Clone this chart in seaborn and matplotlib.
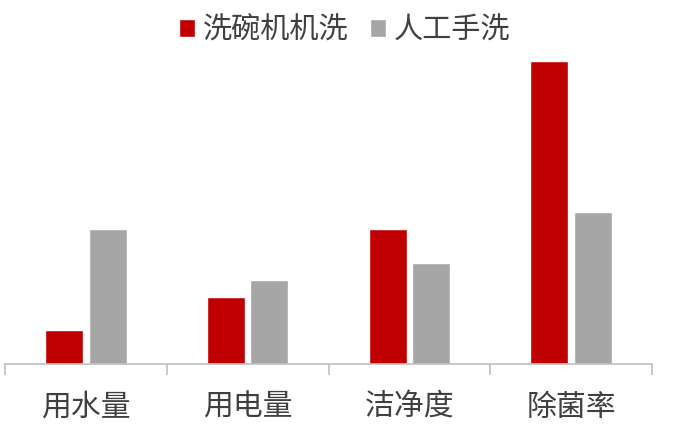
import matplotlib
matplotlib.use("Agg")
import matplotlib.pyplot as plt
import seaborn as sns
import pandas as pd
from matplotlib.ticker import FixedLocator
from matplotlib.patches import Patch

categories = ["用水量", "用电量", "洁净度", "除菌率"]
series_names = ["洗碗机机洗", "人工手洗"]
machine = [1, 2, 4, 9]
manual = [4, 2.5, 3, 4.5]
colors = ["#C00000", "#A6A6A6"]

df = pd.DataFrame({
    "cat": categories * 2,
    "series": [series_names[0]] * 4 + [series_names[1]] * 4,
    "value": machine + manual,
})

sns.set_theme(style="white")
plt.rcParams["font.family"] = ["Noto Sans CJK SC", "DejaVu Sans"]

fig = plt.figure(figsize=(6.76, 4.33), dpi=100)
ax = fig.add_axes([5/676, (433-364)/433, 647/676, 337/433])

sns.barplot(data=df, x="cat", y="value", hue="series", palette=colors,
            width=0.54, gap=0.13, ax=ax, legend=False, saturation=1)

ax.set_xlim(-0.5, 3.5)
ax.set_ylim(0, 10)
ax.set_xlabel("")
ax.set_ylabel("")
ax.set_yticks([])
for s in ["top", "right", "left"]:
    ax.spines[s].set_visible(False)
ax.spines["bottom"].set_color("#BFBFBF")
ax.spines["bottom"].set_linewidth(1.2)
ax.xaxis.set_minor_locator(FixedLocator([-0.5, 0.5, 1.5, 2.5, 3.5]))
ax.tick_params(axis="x", which="major", length=0, pad=20, labelsize=21.5, labelcolor="#404040")
ax.tick_params(axis="x", which="minor", length=8, width=1.2, color="#BFBFBF", bottom=True)

handles = [Patch(facecolor=colors[0]), Patch(facecolor=colors[1])]
fig.legend(handles, series_names, loc="upper center", bbox_to_anchor=(0.51, 1.025), ncol=2,
           frameon=False, fontsize=21, labelcolor="#404040", handlelength=0.55, handleheight=0.55,
           handletextpad=0.25, columnspacing=0.75)

fig.savefig("out.png", dpi=100)
